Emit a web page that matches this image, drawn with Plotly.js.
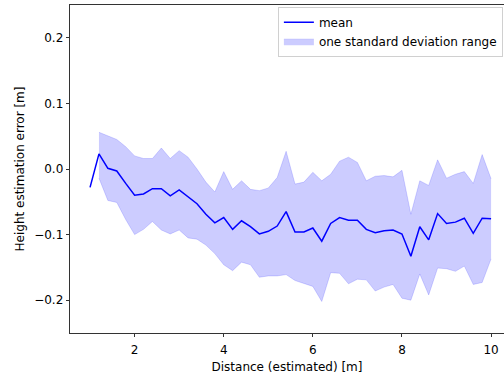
<!DOCTYPE html>
<html><head><meta charset="utf-8">
<script src="https://cdn.plot.ly/plotly-3.0.1.min.js"></script>
<style>html,body{margin:0;padding:0;overflow:hidden;background:#fff}</style>
</head><body><div id="chart" style="width:504px;height:376px"></div>
<script>
const distance = [1.0,1.2,1.4,1.6,1.8,2.0,2.2,2.4,2.6,2.8,3.0,3.2,3.4,3.6,3.8,4.0,4.2,4.4,4.6,4.8,5.0,5.2,5.4,5.6,5.8,6.0,6.2,6.4,6.6,6.8,7.0,7.2,7.4,7.6,7.8,8.0,8.2,8.4,8.6,8.8,9.0,9.2,9.4,9.6,9.8,10.0];
const meanErr = [-0.028,0.023,0.001,-0.003,-0.022,-0.040,-0.038,-0.030,-0.030,-0.041,-0.032,-0.043,-0.053,-0.069,-0.082,-0.074,-0.092,-0.079,-0.088,-0.099,-0.095,-0.087,-0.065,-0.096,-0.096,-0.090,-0.110,-0.083,-0.074,-0.078,-0.078,-0.092,-0.097,-0.094,-0.093,-0.099,-0.133,-0.088,-0.108,-0.068,-0.083,-0.081,-0.075,-0.098,-0.075,-0.076];
const upperErr = [null,0.056,0.051,0.045,0.034,0.020,0.016,0.016,0.032,0.016,0.028,0.018,0.000,-0.020,-0.035,-0.004,-0.031,-0.018,-0.031,-0.033,-0.029,-0.013,0.027,-0.023,-0.020,-0.005,-0.018,-0.008,0.012,0.018,0.010,-0.018,-0.011,-0.010,-0.012,-0.002,-0.069,-0.018,-0.025,0.014,-0.014,-0.008,-0.004,-0.022,0.022,-0.015];
const lowerErr = [null,-0.014,-0.048,-0.051,-0.077,-0.100,-0.092,-0.080,-0.093,-0.099,-0.093,-0.105,-0.107,-0.116,-0.129,-0.146,-0.155,-0.142,-0.146,-0.165,-0.163,-0.163,-0.161,-0.170,-0.175,-0.179,-0.202,-0.158,-0.159,-0.175,-0.168,-0.169,-0.186,-0.180,-0.176,-0.197,-0.200,-0.160,-0.192,-0.151,-0.152,-0.156,-0.148,-0.176,-0.173,-0.137];
const xTicks = [2,4,6,8,10];
const yTicks = [-0.2,-0.1,0.0,0.1,0.2];

const font = {family:'DejaVu Sans, sans-serif', size:12, color:'#000'};
const data = [
  {x:distance, y:lowerErr, mode:'lines', line:{color:'rgba(0,0,255,0.15)', width:1}, showlegend:false, hoverinfo:'skip', legendgroup:'b'},
  {x:distance, y:upperErr, mode:'lines', fill:'tonexty', fillcolor:'rgba(0,0,255,0.2)', line:{color:'rgba(0,0,255,0.15)', width:1}, name:'one standard deviation range', legendgroup:'b', legendrank:2},
  {x:distance, y:meanErr, mode:'lines', line:{color:'#0000ff', width:1.5}, name:'mean', legendgroup:'a', legendrank:1}
];
const layout = {
  width:504, height:376,
  margin:{l:70, r:0, t:5, b:43},
  paper_bgcolor:'#fff', plot_bgcolor:'#fff',
  font:font,
  showlegend:true,
  legend:{x:0.479, y:0.995, xanchor:'left', yanchor:'top', traceorder:'grouped', bgcolor:'rgba(255,255,255,0.8)', bordercolor:'#d0d0d0', borderwidth:1, font:font, tracegroupgap:0, itemwidth:30},
  xaxis:{range:[0.55,10.29], tickvals:xTicks, ticktext:xTicks.map(String), ticks:'outside', ticklen:3.5, tickwidth:0.8, tickcolor:'#000', ticklabelstandoff:2, showline:true, linecolor:'#000', linewidth:0.8, mirror:true, showgrid:false, zeroline:false,
    title:{text:'Distance (estimated) [m]', font:font, standoff:6}},
  yaxis:{range:[-0.25,0.25], tickvals:yTicks, tickformat:'.1f', ticks:'outside', ticklen:3.5, tickwidth:0.8, tickcolor:'#000', showline:true, linecolor:'#000', linewidth:0.8, showgrid:false, zeroline:false,
    title:{text:'Height estimation error [m]', font:font, standoff:6}}
};
Plotly.newPlot('chart', data, layout, {staticPlot:true, displayModeBar:false});
</script></body></html>
